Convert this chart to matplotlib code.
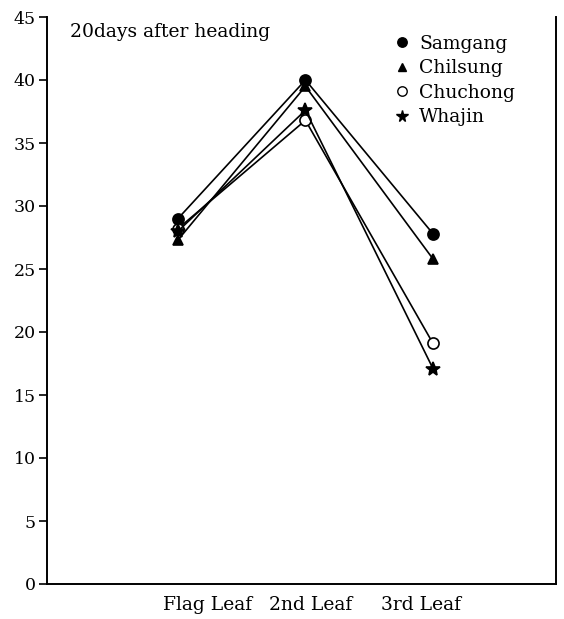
import matplotlib
matplotlib.use("Agg")
import matplotlib.pyplot as plt
from matplotlib.lines import Line2D

plt.rcParams['font.family'] = ['DejaVu Serif']

categories = ["Flag Leaf", "2nd Leaf", "3rd Leaf"]
series_names = ["Samgang", "Chilsung", "Chuchong", "Whajin"]
samgang = [29.0, 40.0, 27.8]
chilsung = [27.3, 39.5, 25.8]
chuchong = [28.2, 36.8, 19.1]
whajin = [28.0, 37.6, 17.1]
yticks = [0, 5, 10, 15, 20, 25, 30, 35, 40, 45]
title_text = "20days after heading"

markers = ["o", "^", "o", "*"]
faces = ["black", "black", "white", "black"]
sizes = [8, 7, 8, 10]
data = [samgang, chilsung, chuchong, whajin]

fig = plt.figure(figsize=(5.64, 6.19), dpi=100)
ax = fig.add_axes([47/564, 1 - 584/619, (556-47)/564, (584-17)/619])

x = list(range(len(categories)))
for vals, m, fc, s in zip(data, markers, faces, sizes):
    ax.plot(x, vals, color="black", lw=1.2, marker=m, markerfacecolor=fc,
            markeredgecolor="black", markersize=s, markeredgewidth=1.2)

ax.set_ylim(0, 45)
ax.set_xlim(-1.027, 2.965)
ax.set_yticks(yticks)
ax.set_yticklabels([str(v) for v in yticks], fontsize=12.5)
ax.set_xticks([0.23, 1.04, 1.91])
ax.set_xticklabels(categories, fontsize=13.5)
ax.tick_params(axis='x', length=0, pad=9)
ax.tick_params(axis='y', direction='out', length=6, width=1.2, pad=2)
ax.spines['top'].set_visible(False)
for sp in ['left', 'right', 'bottom']:
    ax.spines[sp].set_linewidth(1.4)

ax.text(0.045, 0.974, title_text, transform=ax.transAxes, fontsize=13.5,
        ha='left', va='center')

handles = [Line2D([], [], linestyle='none', marker=m, markerfacecolor=fc,
                  markeredgecolor='black', markersize=s * 0.85)
           for m, fc, s in zip(markers, faces, sizes)]
ax.legend(handles, series_names, loc='upper left', bbox_to_anchor=(0.665, 0.982),
          frameon=False, fontsize=13.5, handletextpad=0.4, handlelength=1.0,
          labelspacing=0.35, borderaxespad=0)

fig.savefig("out.png", dpi=100)
